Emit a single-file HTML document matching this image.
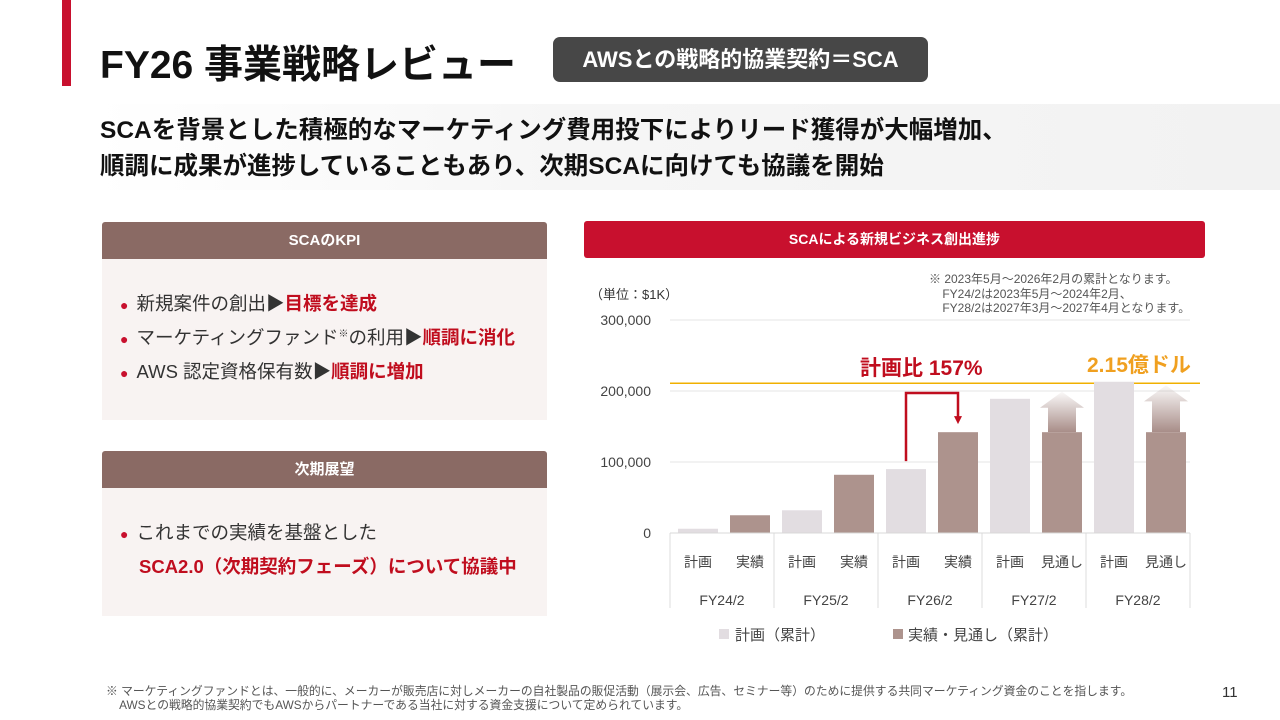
<!DOCTYPE html>
<html><head><meta charset="utf-8"><style>
*{margin:0;padding:0;box-sizing:border-box}
body{width:1280px;height:720px;overflow:hidden;background:#fff;position:relative;font-family:"Liberation Sans","Noto Sans CJK JP",sans-serif;color:#111}
.a{position:absolute}
.hdr{background:#8a6a64;color:#fff;font-weight:bold;font-size:15px;text-align:center;border-radius:3px 3px 0 0}
.pb{background:#f8f3f2}
.li{font-size:18.5px;color:#333;white-space:nowrap}
.li b{color:#c00d1e}
.dot{color:#c8102e;font-size:14px;margin-right:8px}
</style></head><body>
<div class="a" style="left:62px;top:0;width:9px;height:86px;background:#c8102e"></div>
<div class="a" style="left:100px;top:34px;font-size:39px;font-weight:bold;white-space:nowrap">FY26 事業戦略レビュー</div>
<div class="a" style="left:553px;top:37px;width:375px;height:45px;background:#474747;border-radius:7px;color:#fff;font-size:22px;font-weight:bold;text-align:center;line-height:45px">AWSとの戦略的協業契約＝SCA</div>
<div class="a" style="left:95px;top:104px;width:1185px;height:86px;background:linear-gradient(90deg,#fff 0%,#f6f6f6 40%,#f2f2f2 100%)"></div>
<div class="a" style="left:100px;top:113px;font-size:24.5px;font-weight:bold;line-height:36px;white-space:nowrap">SCAを背景とした積極的なマーケティング費用投下によりリード獲得が大幅増加、<br>順調に成果が進捗していることもあり、次期SCAに向けても協議を開始</div>

<div class="a hdr" style="left:102px;top:222px;width:445px;height:37px;line-height:37px">SCAのKPI</div>
<div class="a pb" style="left:102px;top:259px;width:445px;height:161px"></div>
<div class="a li" style="left:120px;top:290px"><span class="dot">●</span>新規案件の創出▶<b>目標を達成</b></div>
<div class="a li" style="left:120px;top:324px"><span class="dot">●</span>マーケティングファンド<sup style="font-size:10px">※</sup>の利用▶<b>順調に消化</b></div>
<div class="a li" style="left:120px;top:358px"><span class="dot">●</span>AWS 認定資格保有数▶<b>順調に増加</b></div>

<div class="a hdr" style="left:102px;top:451px;width:445px;height:37px;line-height:37px">次期展望</div>
<div class="a pb" style="left:102px;top:488px;width:445px;height:128px"></div>
<div class="a li" style="left:120px;top:519px"><span class="dot">●</span>これまでの実績を基盤とした</div>
<div class="a li" style="left:139px;top:553px;color:#c00d1e;font-weight:bold">SCA2.0（次期契約フェーズ）について協議中</div>

<div class="a" style="left:584px;top:221px;width:621px;height:37px;background:#c8102e;color:#fff;font-weight:bold;font-size:14px;text-align:center;line-height:37px;border-radius:3px">SCAによる新規ビジネス創出進捗</div>
<div class="a" style="left:929px;top:272px;font-size:12px;color:#555;line-height:14.5px;white-space:nowrap">※ 2023年5月～2026年2月の累計となります。<br>&nbsp;&nbsp;&nbsp;&nbsp;FY24/2は2023年5月～2024年2月、<br>&nbsp;&nbsp;&nbsp;&nbsp;FY28/2は2027年3月～2027年4月となります。</div>
<div class="a" style="left:590px;top:284px;font-size:13px;color:#333">（単位：$1K）</div>

<svg id="chart" class="a" style="left:0;top:0" width="1280" height="720">
<defs><linearGradient id="ag" x1="0" y1="1" x2="0" y2="0"><stop offset="0" stop-color="#a88d88"/><stop offset="1" stop-color="#a88d88" stop-opacity="0.05"/></linearGradient></defs>
<g id="g"></g>
</svg>

<div class="a" style="left:106px;top:684px;font-size:11.8px;color:#555;line-height:14px;white-space:nowrap">※ マーケティングファンドとは、一般的に、メーカーが販売店に対しメーカーの自社製品の販促活動（展示会、広告、セミナー等）のために提供する共同マーケティング資金のことを指します。<br>&nbsp;&nbsp;&nbsp;&nbsp;AWSとの戦略的協業契約でもAWSからパートナーである当社に対する資金支援について定められています。</div>
<div class="a" style="left:1222px;top:684px;font-size:15px;color:#333">11</div>

<script>
const categories=["FY24/2","FY25/2","FY26/2","FY27/2","FY28/2"];
const barLabels=[["計画","実績"],["計画","実績"],["計画","実績"],["計画","見通し"],["計画","見通し"]];
const planValues=[6000,32000,90000,189000,213000];
const actualValues=[25000,82000,142000,142000,142000];
const arrowTops=[null,null,null,199000,208000];
const yTicks=[0,100000,200000,300000];
const targetValue=211000;
const NS="http://www.w3.org/2000/svg";
const g=document.getElementById('g');
const x0=670,x1=1190,y0=533,ymax=300000,ph=213;
const gw=(x1-x0)/categories.length;
const Y=v=>y0-v/ymax*ph;
function el(t,a,txt){const e=document.createElementNS(NS,t);for(const k in a)e.setAttribute(k,a[k]);if(txt!=null)e.textContent=txt;g.appendChild(e);return e;}
yTicks.forEach(t=>{
  if(t>0){const l=el('line',{x1:x0,x2:x1,y1:Y(t),y2:Y(t),stroke:'#e4e4e4'});
  
  }
  const tx=el('text',{x:651,y:Y(t)+5,'text-anchor':'end','font-size':14,fill:'#444'},t.toLocaleString('en-US'));
  
  
});
const tl=el('line',{x1:x0,x2:1200,y1:Y(targetValue),y2:Y(targetValue),stroke:'#f0b000','stroke-width':1.5});


categories.forEach((c,i)=>{
  const gx=x0+i*gw;
  const pb=el('rect',{x:gx+8,y:Y(planValues[i]),width:40,height:y0-Y(planValues[i]),fill:'#e2dde1'});
  
  
  if(arrowTops[i]!=null){
    const ax=gx+80,ty=Y(arrowTops[i]),by=Y(actualValues[i]);
    const ar=el('path',{d:`M${ax-14},${by} L${ax-14},${ty+16} L${ax-22},${ty+16} L${ax},${ty} L${ax+22},${ty+16} L${ax+14},${ty+16} L${ax+14},${by} Z`,fill:'url(#ag)'});
    
    
  }
  const ab=el('rect',{x:gx+60,y:Y(actualValues[i]),width:40,height:y0-Y(actualValues[i]),fill:'#ad938d'});
  
  
  [0,1].forEach(j=>{const t=el('text',{x:gx+28+j*52,y:567,'text-anchor':'middle','font-size':14,fill:'#444'},barLabels[i][j]);
    
    });
  const ct=el('text',{x:gx+gw/2,y:605,'text-anchor':'middle','font-size':14,fill:'#444'},c);
  
  
});
for(let i=0;i<=categories.length;i++){const l=el('line',{x1:x0+i*gw,x2:x0+i*gw,y1:y0,y2:608,stroke:'#ddd'});
  
  }
const ax=el('line',{x1:x0,x2:x1,y1:y0,y2:y0,stroke:'#d8d8d8'});


const bx1=x0+2*gw+28,bx2=x0+2*gw+80;
const br=el('path',{d:`M${bx1},${Y(planValues[2])-8} L${bx1},${Y(200000)+2} L${bx2},${Y(200000)+2} L${bx2},${Y(actualValues[2])-14}`,fill:'none',stroke:'#c00d1e','stroke-width':2.5});


const ah=el('path',{d:`M${bx2-4},${Y(actualValues[2])-16} L${bx2+4},${Y(actualValues[2])-16} L${bx2},${Y(actualValues[2])-8} Z`,fill:'#c00d1e'});


const rt=el('text',{x:860,y:375,'font-size':21,'font-weight':'bold',fill:'#c00d1e'},'計画比 157%');


const gt=el('text',{x:1087,y:372,'font-size':21,'font-weight':'bold',fill:'#f0a020'},'2.15億ドル');


const lg1=el('rect',{x:719,y:629,width:10,height:10,fill:'#e2dde1'});


const lt1=el('text',{x:735,y:640,'font-size':15,fill:'#444'},'計画（累計）');


const lg2=el('rect',{x:893,y:629,width:10,height:10,fill:'#ad938d'});


const lt2=el('text',{x:908,y:640,'font-size':15,fill:'#444'},'実績・見通し（累計）');


</script>
</body></html>
